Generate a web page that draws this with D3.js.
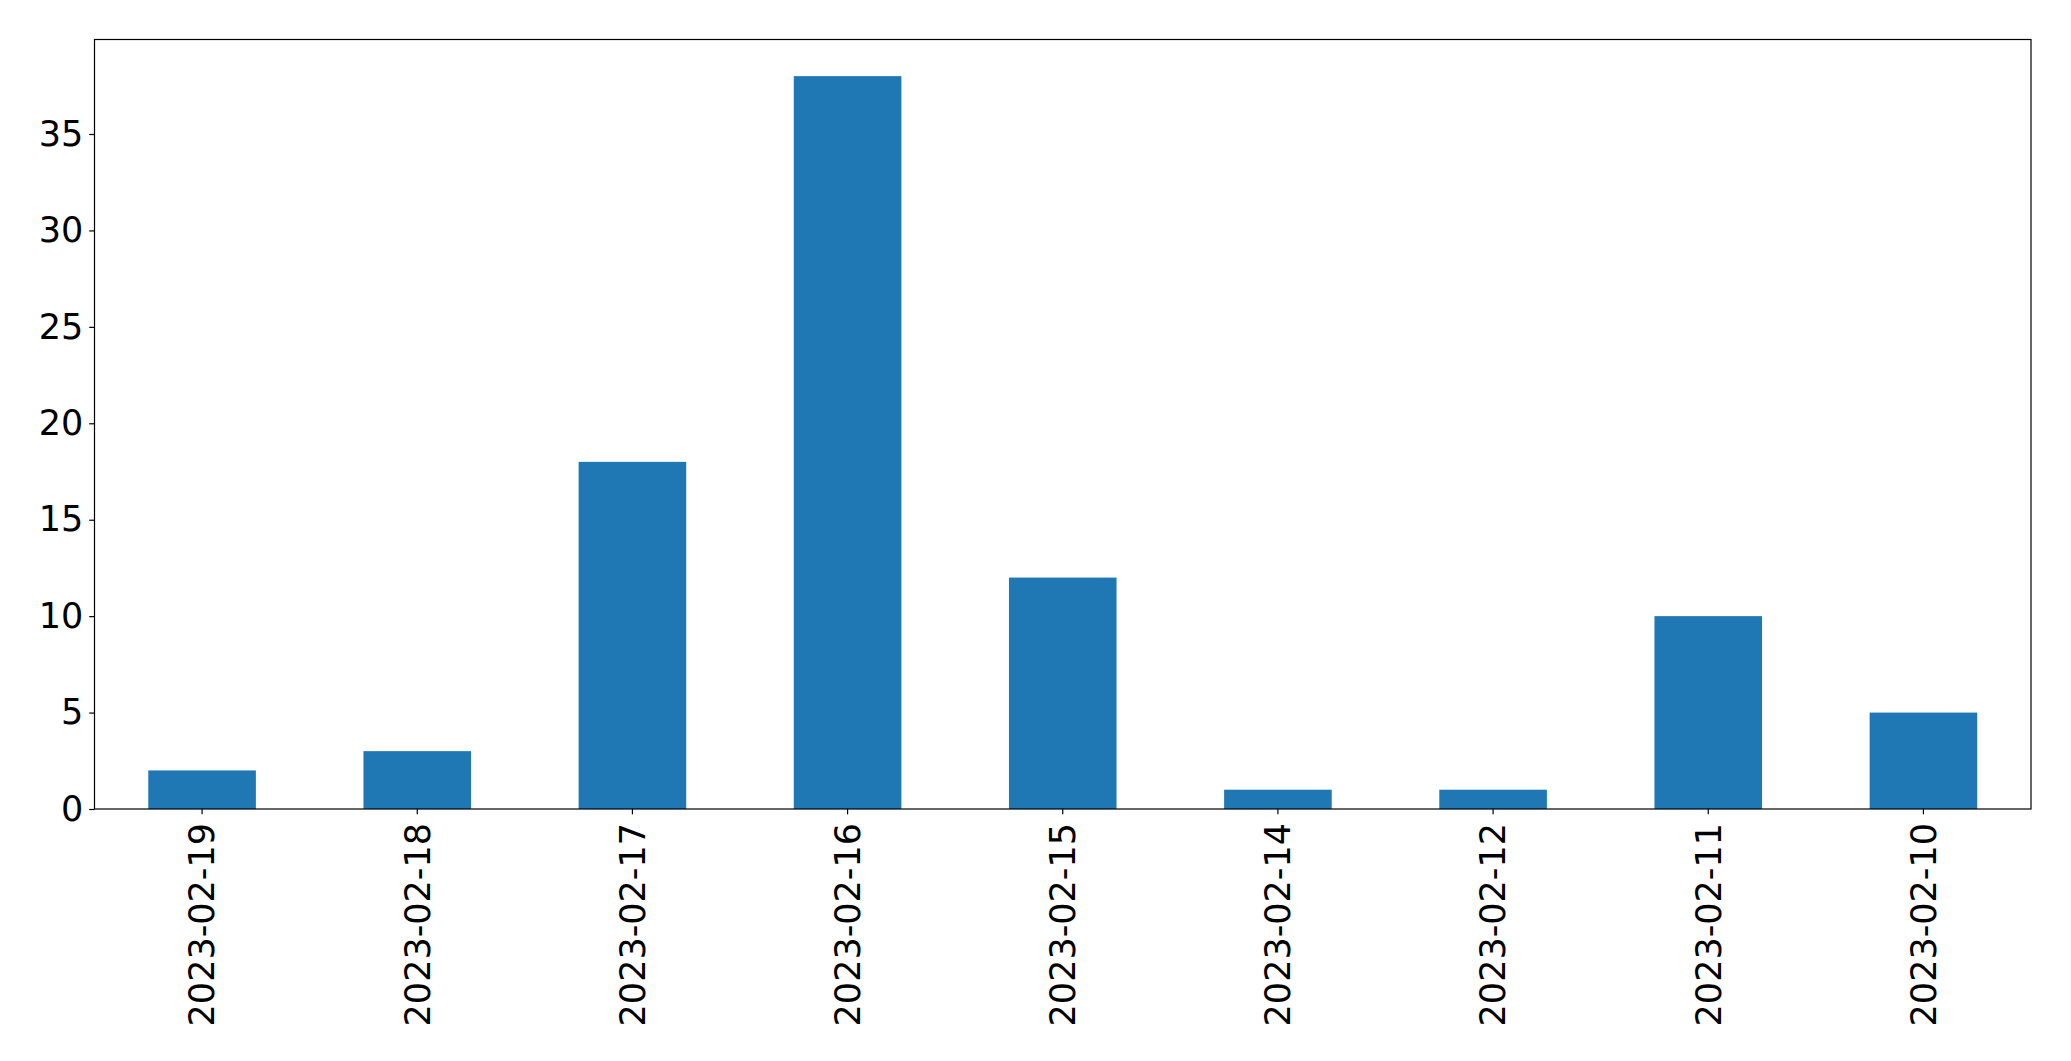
<!DOCTYPE html>
<html><head><meta charset="utf-8">
<script src="https://cdn.jsdelivr.net/npm/d3@7"></script>
<style>body{margin:0;background:#fff}svg{display:block}</style>
</head><body>
<script>
const categories = ["2023-02-19","2023-02-18","2023-02-17","2023-02-16","2023-02-15","2023-02-14","2023-02-12","2023-02-11","2023-02-10"];
const counts = [2, 3, 18, 38, 12, 1, 1, 10, 5];
const yTicks = [0, 5, 10, 15, 20, 25, 30, 35];

const W = 2071, H = 1061;
const m = {left: 94.5, right: 2031, top: 39.5, bottom: 809};
const svg = d3.select("body").append("svg").attr("width", W).attr("height", H);

const x = d3.scaleBand().domain(categories).range([m.left, m.right]).paddingInner(0.5).paddingOuter(0.25);
const yMax = d3.max(counts) * 1.05;
const y = d3.scaleLinear().domain([0, yMax]).range([m.bottom, m.top]);

svg.append("g").selectAll("rect").data(counts).join("rect")
  .attr("x", (d, i) => x(categories[i]))
  .attr("width", x.bandwidth())
  .attr("y", d => y(d))
  .attr("height", d => y(0) - y(d))
  .attr("fill", "#1f77b4");

const font = "DejaVu Sans, sans-serif";
const fs = 35;

const yAxis = svg.append("g").attr("transform", `translate(${m.left},0)`)
  .call(d3.axisLeft(y).tickValues(yTicks).tickSize(5.3).tickPadding(6).tickFormat(d3.format("d")));
yAxis.select(".domain").remove();
yAxis.selectAll("line").attr("stroke", "#000").attr("stroke-width", 1.2);
yAxis.selectAll("text").attr("font-family", font).attr("font-size", fs).attr("fill", "#000");

const xAxis = svg.append("g").attr("transform", `translate(0,${m.bottom})`)
  .call(d3.axisBottom(x).tickSize(5.3).tickPadding(6));
xAxis.select(".domain").remove();
xAxis.selectAll("line").attr("stroke", "#000").attr("stroke-width", 1.2);
xAxis.selectAll("text").attr("font-family", font).attr("font-size", fs).attr("fill", "#000")
  .attr("transform", "rotate(-90)")
  .attr("text-anchor", "end")
  .attr("x", -14).attr("y", 0).attr("dy", "0.35em");

svg.append("rect").attr("x", m.left).attr("y", m.top)
  .attr("width", m.right - m.left).attr("height", m.bottom - m.top)
  .attr("fill", "none").attr("stroke", "#000").attr("stroke-width", 1.2);
</script>
</body></html>
